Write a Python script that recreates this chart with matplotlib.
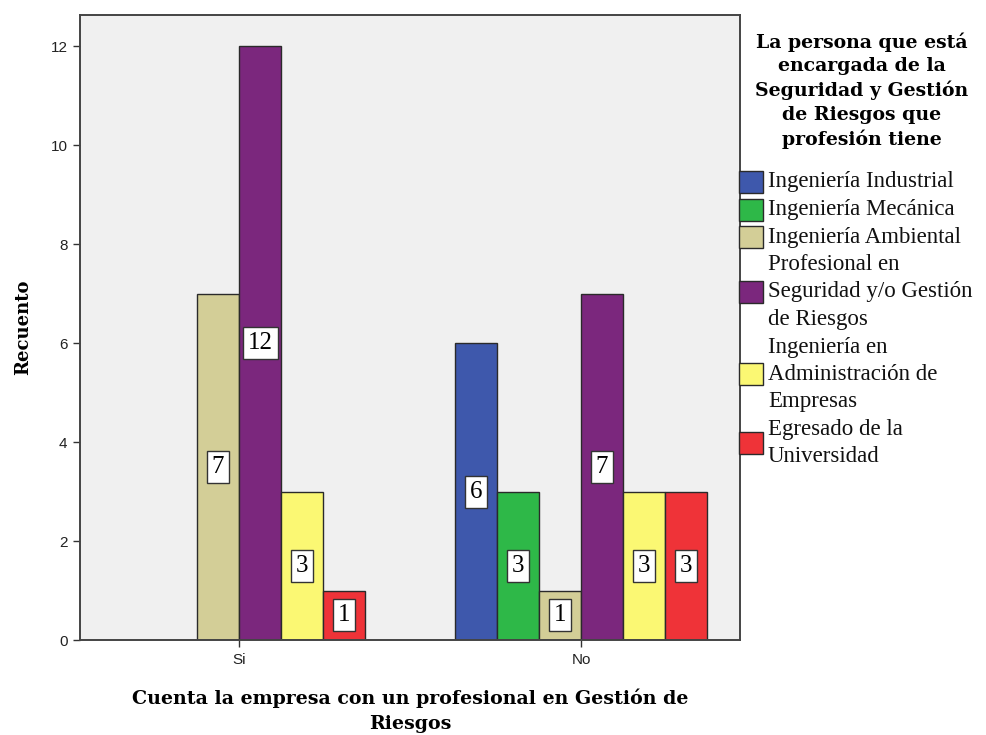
import matplotlib
matplotlib.use("Agg")
import matplotlib.pyplot as plt
from matplotlib.patches import Rectangle
import numpy as np

categories = ["Si", "No"]
series_names = [
    "Ingeniería Industrial",
    "Ingeniería Mecánica",
    "Ingeniería Ambiental",
    "Profesional en\nSeguridad y/o Gestión\nde Riesgos",
    "Ingeniería en\nAdministración de\nEmpresas",
    "Egresado de la\nUniversidad",
]
series_colors = ["#3E58AC", "#2EB848", "#D3CE97", "#7B277D", "#FBF873", "#EF3338"]
values_si = [0, 0, 7, 12, 3, 1]
values_no = [6, 3, 1, 7, 3, 3]
y_ticks = [0, 2, 4, 6, 8, 10, 12]

legend_title = "La persona que está\nencargada de la\nSeguridad y Gestión\nde Riesgos que\nprofesión tiene"
x_title = "Cuenta la empresa con un profesional en Gestión de\nRiesgos"
y_title = "Recuento"

W, H = 986, 735
fig = plt.figure(figsize=(W / 100, H / 100), dpi=100)
fig.patch.set_facecolor("white")
ax = fig.add_axes([80 / W, 1 - 640 / H, 660 / W, 625 / H])
ax.set_facecolor("#F0F0F0")

n = len(series_names)
bw = 42 / 342
xc = np.arange(len(categories))
data = np.array([values_si, values_no])  # shape (cat, series)

for i in range(n):
    offs = (i - (n - 1) / 2) * bw
    vals = data[:, i]
    for j, v in enumerate(vals):
        if v <= 0:
            continue
        ax.bar(xc[j] + offs, v, width=bw, color=series_colors[i],
               edgecolor="#2a2a2a", linewidth=1.0, zorder=2)
        ax.text(xc[j] + offs, v / 2, str(v), ha="center", va="center",
                family="Liberation Serif", fontsize=18, zorder=3,
                bbox=dict(boxstyle="square,pad=0.2", facecolor="white",
                          edgecolor="#333333", linewidth=1.0))

ax.set_xlim(-0.465, 1.465)
ax.set_ylim(0, 12.63)
ax.set_xticks(xc)
ax.set_xticklabels(categories, family="Liberation Sans", fontsize=11)
ax.set_yticks(y_ticks)
ax.set_yticklabels([str(t) for t in y_ticks], family="Liberation Sans", fontsize=11)
ax.tick_params(axis="both", direction="out", length=5, width=1, color="#333333",
               labelcolor="#222222", pad=4)
for s in ax.spines.values():
    s.set_color("#444444")
    s.set_linewidth(1.4)

ax.set_xlabel(x_title, family="DejaVu Serif", fontweight="bold", fontsize=13.7,
              labelpad=16, linespacing=1.45)
ax.set_ylabel(y_title, family="DejaVu Serif", fontweight="bold", fontsize=13,
              labelpad=13)

# legend (manual, in pixel coordinates converted to figure fraction)
def fx(px):
    return px / W

def fy(py):
    return 1 - py / H

title_lines = legend_title.split("\n")
for k, line in enumerate(title_lines):
    fig.text(fx(862), fy(42 + k * 24.3), line, ha="center", va="center",
             family="DejaVu Serif", fontweight="bold", fontsize=13.6)

y_line = 182.0
step = 27.5
for i, name in enumerate(series_names):
    lines = name.split("\n")
    ys = [y_line + k * step for k in range(len(lines))]
    cy = np.mean(ys)
    fig.patches.append(Rectangle((fx(739), fy(cy + 11)), 24 / W, 22 / H,
                                 transform=fig.transFigure, facecolor=series_colors[i],
                                 edgecolor="#2a2a2a", linewidth=1.0))
    for k, line in enumerate(lines):
        fig.text(fx(768), fy(ys[k]), line, ha="left", va="center",
                 family="Liberation Serif", fontsize=16.5, color="#111111")
    y_line = ys[-1] + step

fig.savefig("out.png", dpi=100)
